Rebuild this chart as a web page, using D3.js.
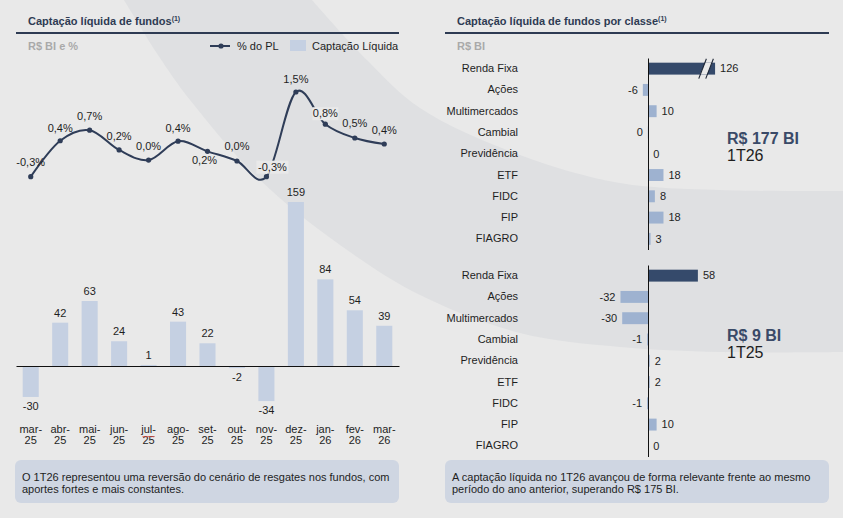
<!DOCTYPE html>
<html><head><meta charset="utf-8">
<script src="https://cdn.jsdelivr.net/npm/d3@7"></script>
<style>
html,body{margin:0;padding:0;background:#e9e9e9;}
svg{display:block;font-family:"Liberation Sans",Arial,sans-serif;}
</style></head><body>
<svg id="c" width="843" height="518"></svg>
<script>
// ---------- DATA ----------
const months = ["mar-25","abr-25","mai-25","jun-25","jul-25","ago-25","set-25","out-25","nov-25","dez-25","jan-26","fev-26","mar-26"];
const captacao = [-30, 42, 63, 24, 1, 43, 22, -2, -34, 159, 84, 54, 39];
const pctPL = [-0.34, 0.44, 0.67, 0.24, 0.02, 0.43, 0.21, 0.0, -0.34, 1.5, 0.8, 0.5, 0.37];
const classes = ["Renda Fixa","Ações","Multimercados","Cambial","Previdência","ETF","FIDC","FIP","FIAGRO"];
const values1T26 = [126, -6, 10, -0.2, 0.4, 18, 8, 18, 3];
const values1T25 = [58, -32, -30, -1, 2, 2, -1, 10, 0.3];
const totalLabels = ["R$ 177 BI", "R$ 9 BI"];
const periodLabels = ["1T26", "1T25"];
const titleLeft = "Captação líquida de fundos";
const titleRight = "Captação líquida de fundos por classe";
const unitLeft = "R$ BI e %";
const unitRight = "R$ BI";
const legendLabels = ["% do PL", "Captação Líquida"];
const noteLeft = ["O 1T26 representou uma reversão do cenário de resgates nos fundos, com", "aportes fortes e mais constantes."];
const noteRight = ["A captação líquida no 1T26 avançou de forma relevante frente ao mesmo", "período do ano anterior, superando R$ 175 BI."];

// ---------- STYLE / LAYOUT ----------
const C = {
  bg: "#e9e9e9", band: "#dfe0e2", navy: "#2e3b53", line: "#2f3d58",
  barL: "#c5d0e2", barR: "#9eb2d0", barDark: "#354a6b", gray: "#a9a9a9",
  text: "#1e1e1e", box: "#cfd6e2", total: "#3a4a68"
};
// label offsets for % labels (baseline relative to point)
const pctLabelDy = [-11, -9, -10, -10, -10, -9, 13, -11, -6, -9, -7, -11, -10];
const pctLabelDx = [0, 0, 0, 0, 0, 0, -3, 0, 6, 0, 0, 0, 0];
const pctLabelBox = [false,false,false,false,false,false,false,false,true,false,true,false,false];

const svg = d3.select("#c");
svg.append("rect").attr("width",843).attr("height",518).attr("fill",C.bg);

// decorative background swoosh
const outer = [[124,0],[158,55],[190,100],[260,180],[340,245],[420,295],[520,333],[620,347],[720,352],[843,352]];
const inner = [[843,191],[720,190],[620,183],[520,155],[420,108],[367,60],[312,0]];
const lg = d3.line().curve(d3.curveCatmullRom);
svg.append("path").attr("fill",C.band)
  .attr("d", lg(outer) + "L" + lg(inner).slice(1) + "Z");

// ---------- HEADERS ----------
function header(x0, x1, tx, title, unit) {
  const t = svg.append("text").attr("x",tx).attr("y",25).attr("font-size",11)
    .attr("font-weight","bold").attr("fill",C.navy);
  t.append("tspan").text(title);
  t.append("tspan").attr("font-size",7).attr("dy",-4).text("(1)");
  svg.append("rect").attr("x",x0).attr("y",32).attr("width",x1-x0).attr("height",2).attr("fill",C.navy);
  svg.append("text").attr("x",tx).attr("y",50).attr("font-size",11)
    .attr("font-weight","bold").attr("fill",C.gray).text(unit);
}
header(16, 399, 28, titleLeft, unitLeft);
header(445, 829, 457, titleRight, unitRight);

// legend
svg.append("line").attr("x1",210).attr("x2",230).attr("y1",46).attr("y2",46)
  .attr("stroke",C.line).attr("stroke-width",2);
svg.append("circle").attr("cx",221).attr("cy",46).attr("r",2.6).attr("fill",C.line);
svg.append("text").attr("x",237).attr("y",50).attr("font-size",11).attr("fill",C.text).text(legendLabels[0]);
svg.append("rect").attr("x",290).attr("y",40).attr("width",16).attr("height",11).attr("fill",C.barL);
svg.append("text").attr("x",312).attr("y",50).attr("font-size",11).attr("fill",C.text).text(legendLabels[1]);

// ---------- LEFT CHART ----------
const x = d3.scaleBand().domain(months).range([16, 399]).paddingInner(0.455).paddingOuter(0.2275);
const yBar = d3.scaleLinear().domain([0, 159]).range([366, 202]);
const yPct = d3.scaleLinear().domain([0, 1.5]).range([161, 92]);

const gL = svg.append("g");
gL.selectAll("rect.bar").data(captacao).join("rect").attr("class","bar")
  .attr("x",(d,i)=>x(months[i])).attr("width",x.bandwidth())
  .attr("y",d=>Math.min(yBar(d),yBar(0))).attr("height",d=>Math.abs(yBar(d)-yBar(0)))
  .attr("fill",C.barL);
gL.selectAll("text.bl").data(captacao).join("text").attr("class","bl")
  .attr("x",(d,i)=>x(months[i])+x.bandwidth()/2)
  .attr("y",d=> d>=0 ? yBar(d)-6 : yBar(d)+13)
  .attr("text-anchor","middle").attr("font-size",11).attr("fill",C.text)
  .text(d=>String(d));

// x axis
const ax = gL.append("g").attr("transform","translate(0,366)")
  .call(d3.axisBottom(x).tickSize(0).tickSizeOuter(0));
ax.attr("font-family",null).attr("font-size",11);
ax.select(".domain").attr("stroke","#111").attr("stroke-width",1);
ax.selectAll(".tick text").each(function(d){
  const parts = d.split("-");
  const t = d3.select(this).text(null).attr("dy",null).attr("y",null).attr("fill",C.text);
  t.append("tspan").attr("x",0).attr("y",67).text(parts[0]+"-");
  t.append("tspan").attr("x",0).attr("y",78).text(parts[1]);
});
// spell-check squiggle under "jul-"
{
  const cx = x("jul-25") + x.bandwidth()/2;
  let p = "M" + (cx-6) + ",436";
  for (let k=0;k<6;k++) p += "l1,1.2l1,-1.2";
  ax.append("path").attr("transform","translate(0,-366)").attr("d",p)
    .attr("fill","none").attr("stroke","#e0453a").attr("stroke-width",0.8);
}

// % line
const pts = pctPL.map((v,i)=>[x(months[i])+x.bandwidth()/2, yPct(v)]);
gL.append("path").attr("d", d3.line().curve(d3.curveCardinal.tension(0))(pts))
  .attr("fill","none").attr("stroke",C.line).attr("stroke-width",2);
gL.selectAll("circle.pt").data(pts).join("circle").attr("class","pt")
  .attr("cx",d=>d[0]).attr("cy",d=>d[1]).attr("r",2.6).attr("fill",C.line);
const fmtPct = v => (Math.round(v*10)/10).toFixed(1).replace(".",",") + "%";
pctPL.forEach((v,i)=>{
  const lx = pts[i][0] + pctLabelDx[i], ly = pts[i][1] + pctLabelDy[i];
  const s = fmtPct(v);
  if (pctLabelBox[i]) {
    const w = s.length*6 + 2;
    gL.append("rect").attr("x",lx-w/2).attr("y",ly-10).attr("width",w).attr("height",13).attr("fill",C.bg);
  }
  gL.append("text").attr("x",lx).attr("y",ly).attr("text-anchor","middle")
    .attr("font-size",11).attr("fill",C.text).text(s);
});

// ---------- RIGHT CHARTS ----------
const xR = d3.scaleLinear().domain([0, 100]).range([648, 734]);
const breakCap = 78;
function panel(values, r0, r1, total, period, totY) {
  const y = d3.scaleBand().domain(classes).range([r0, r1]).paddingInner(0.44).paddingOuter(0.22);
  const g = svg.append("g");
  g.selectAll("rect").data(values).join("rect")
    .attr("y",(d,i)=>y(classes[i])).attr("height",y.bandwidth())
    .attr("x",d=>Math.min(xR(d),xR(0)))
    .attr("width",d=>Math.abs(xR(Math.min(d,breakCap))-xR(0)))
    .attr("fill",(d,i)=> i===0 ? C.barDark : C.barR);
  // broken bars
  values.forEach((d,i)=>{
    if (d > breakCap) {
      const xe = xR(breakCap), yt = y(classes[i]), yb = yt + y.bandwidth();
      const a = xe-12.5, b = xe-5.5, h = 2.6;
      g.append("path").attr("d",`M${a-h},${yb}L${a+h},${yt}L${b+h},${yt}L${b-h},${yb}Z`).attr("fill",C.bg);
      [a,b].forEach(c=>{
        g.append("line").attr("x1",c-h-1.2).attr("y1",yb+4).attr("x2",c+h+1.2).attr("y2",yt-4)
          .attr("stroke","#1e2635").attr("stroke-width",1.1);
      });
    }
  });
  g.selectAll("text.v").data(values).join("text").attr("class","v")
    .attr("y",(d,i)=>y(classes[i])+y.bandwidth()/2).attr("dy","0.35em")
    .attr("x",d=> d>=0 ? xR(Math.min(d,breakCap))+5 : xR(d)-5)
    .attr("text-anchor",d=> d>=0 ? "start":"end")
    .attr("font-size",11).attr("fill",C.text)
    .text(d=>String(Math.round(d)));
  const a = g.append("g").attr("transform","translate(648,0)")
    .call(d3.axisLeft(y).tickSize(0).tickSizeOuter(0).tickPadding(130));
  a.attr("font-family",null).attr("font-size",11);
  a.select(".domain").attr("stroke","#111");
  a.selectAll(".tick text").attr("fill",C.text);
  svg.append("text").attr("x",727).attr("y",totY).attr("font-size",16).attr("font-weight","bold")
    .attr("fill",C.total).text(total);
  svg.append("text").attr("x",727).attr("y",totY+17).attr("font-size",16)
    .attr("fill",C.text).text(period);
}
panel(values1T26, 58, 249.5, totalLabels[0], periodLabels[0], 144);
panel(values1T25, 265, 456.5, totalLabels[1], periodLabels[1], 341);

// ---------- NOTES ----------
function note(x0, lines) {
  svg.append("rect").attr("x",x0).attr("y",460).attr("width",384).attr("height",43)
    .attr("rx",6).attr("fill",C.box);
  lines.forEach((s,i)=>{
    svg.append("text").attr("x",x0+7).attr("y",481+i*12).attr("font-size",11)
      .attr("fill",C.text).text(s);
  });
}
note(15, noteLeft);
note(445, noteRight);
</script>
</body></html>
